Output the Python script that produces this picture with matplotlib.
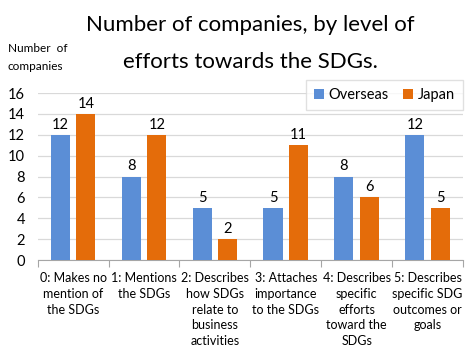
import matplotlib.pyplot as plt
import numpy as np

categories = ["0: Makes no\nmention of\nthe SDGs", "1: Mentions\nthe SDGs",
              "2: Describes\nhow SDGs\nrelate to\nbusiness\nactivities",
              "3: Attaches\nimportance\nto the SDGs",
              "4: Describes\nspecific\nefforts\ntoward the\nSDGs",
              "5: Describes\nspecific SDG\noutcomes or\ngoals"]
overseas = [12, 8, 5, 5, 8, 12]
japan = [14, 12, 2, 11, 6, 5]
yticks = [0, 2, 4, 6, 8, 10, 12, 14, 16]

FONT = ['Lato', 'DejaVu Sans']
plt.rcParams['font.family'] = FONT

W, H = 476, 355
fig = plt.figure(figsize=(W/100, H/100), dpi=100)
ax = fig.add_axes([37.7/W, 1-260/H, (463-37.7)/W, (260-93)/H])

x = np.arange(len(categories))
bw = 0.27
off = 0.18
blue = '#5B8ED6'
orange = '#E46C0A'
b1 = ax.bar(x - off, overseas, bw, color=blue, label='Overseas', zorder=3)
b2 = ax.bar(x + off, japan, bw, color=orange, label='Japan', zorder=3)
for bars, vals in ((b1, overseas), (b2, japan)):
    for r, v in zip(bars, vals):
        ax.text(r.get_x() + r.get_width()/2, v + 0.3, str(v), ha='center', va='bottom',
                fontsize=10.5, color='#000000')

ax.set_xlim(-0.5, len(categories) - 0.5)
ax.set_ylim(0, 16)
ax.set_yticks(yticks)
ax.set_yticklabels([str(t) for t in yticks], fontsize=10.5)
ax.yaxis.grid(True, color='#D9D9D9', linewidth=0.9, zorder=0)
ax.set_axisbelow(True)
for s in ['top', 'right', 'left']:
    ax.spines[s].set_visible(False)
ax.spines['bottom'].set_color('#A6A6A6')
ax.tick_params(axis='y', length=0, pad=9)
ax.set_xticks(np.arange(-0.5, len(categories), 1.0))
ax.set_xticklabels([])
ax.tick_params(axis='x', length=5, color='#A6A6A6', direction='out')
for i, c in enumerate(categories):
    ax.text(i, -1.15, c, ha='center', va='top', fontsize=9, linespacing=1.38,
            transform=ax.transData)

leg = ax.legend(loc='upper right', bbox_to_anchor=(1.0, 1.078), ncol=2, fontsize=10.5,
                frameon=True, handlelength=0.7, handleheight=0.7, handletextpad=0.3,
                columnspacing=1.0, borderpad=0.55, borderaxespad=0, fancybox=False,
                edgecolor='#D9D9D9')

fig.text(250/W, 1-25/H, "Number of companies, by level of", ha='center', va='center', fontsize=16)
fig.text(250/W, 1-62/H, "efforts towards the SDGs.", ha='center', va='center', fontsize=16)
fig.text(8/W, 1-48/H, "Number  of", ha='left', va='center', fontsize=8.5)
fig.text(8/W, 1-66/H, "companies", ha='left', va='center', fontsize=8.5)

fig.savefig('out.png', dpi=100, facecolor='white')
